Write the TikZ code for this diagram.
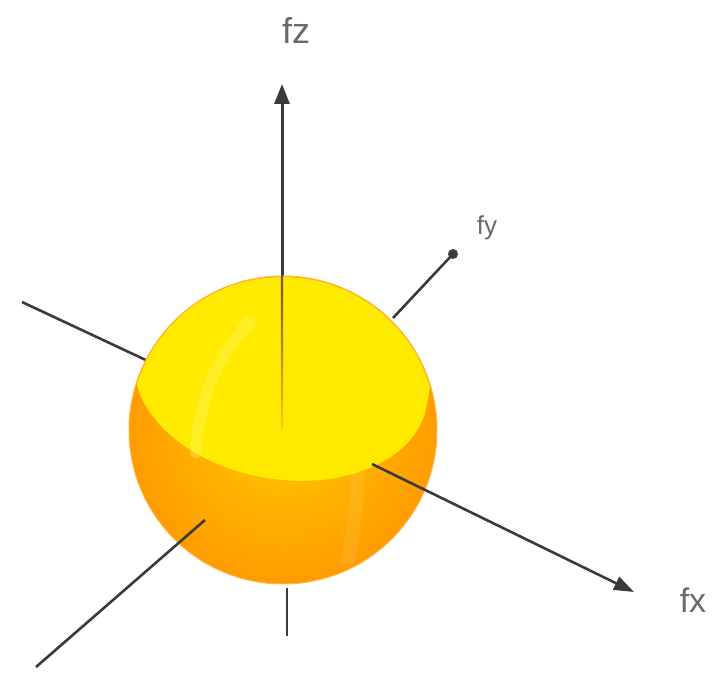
\documentclass[tikz,border=0pt]{standalone}
\usepackage{fontspec}
\setmainfont{Liberation Sans}
\usetikzlibrary{arrows.meta}
\definecolor{capyellow}{HTML}{FFEA00}
\definecolor{capbright}{HTML}{FFF200}
\definecolor{bodyorange}{HTML}{FFB400}
\definecolor{rimorange}{HTML}{FF9C00}
\definecolor{axisgray}{HTML}{3A3A3A}
\definecolor{labelgray}{HTML}{6A6A6A}
\begin{document}
\begin{tikzpicture}[x=1pt,y=-1pt,
  axis/.style={draw=axisgray, line width=2.6pt},
  tipaxis/.style={axis, -{Triangle[length=20pt,width=14pt]}},
  lbl/.style={text=labelgray, inner sep=0pt}]
\useasboundingbox (0,0) rectangle (722,674);

% reference points of the axes
\coordinate (O) at (283,430);
\coordinate (zTip) at (282,84);
\coordinate (zTop) at (282,276);
\coordinate (zBot) at (287,588);
\coordinate (zEnd) at (287,636);
\coordinate (yOut) at (393,318);
\coordinate (yEnd) at (453,254);
\coordinate (xIn) at (372,464);
\coordinate (xTip) at (634,592);
\coordinate (xNeg) at (22,302);
\coordinate (xNegIn) at (150,362);
\coordinate (yNeg) at (36,667);
\coordinate (yNegIn) at (205,520);

% axis parts lying behind the sphere
\draw[axis] (xNeg) -- (xNegIn);
\draw[axis] (zBot) -- (zEnd);
\draw[axis] (yOut) -- (yEnd);
\fill[axisgray] (yEnd) circle[radius=5pt];
\draw[axis,line width=3pt,-{Triangle[length=20pt,width=15pt]}] (zTop) -- (zTip);

% the sphere: orange body with a yellow upper cap
\shade[inner color=bodyorange!60!capyellow, outer color=rimorange] (O) circle[radius=154pt];
\begin{scope}
  \clip (O) circle[radius=153pt];
  \begin{scope}[rotate around={-10:(281,380)}]
    \fill[capyellow] (281,380) ellipse[x radius=148pt, y radius=99pt];
    \fill[capyellow] (133,380) rectangle (429,200);
  \end{scope}
  % soft highlight stripes
  \draw[line width=12pt, capbright!60!white, opacity=0.35, line cap=round]
    (250,322) .. controls (212,360) and (198,410) .. (196,452);
  \draw[line width=14pt, white, opacity=0.08, line cap=round]
    (358,478) .. controls (356,510) and (352,540) .. (348,560);
\end{scope}
\draw[rimorange!70!white, line width=1pt] (O) circle[radius=154pt];

% axis parts in front of the sphere
\shade[top color=axisgray!70!orange, bottom color=capyellow!70!orange] (280.8,276) rectangle (283.2,428);
\draw[tipaxis] (xIn) -- (xTip);
\draw[axis] (yNegIn) -- (yNeg);

% labels
\node[lbl, font=\fontsize{36}{36}\selectfont] (lz) at (296,30) {fz};
\node[lbl, font=\fontsize{26}{26}\selectfont] (ly) at (487,228) {fy};
\node[lbl, font=\fontsize{34}{34}\selectfont] (lx) at (693,600) {fx};
\end{tikzpicture}
\end{document}
